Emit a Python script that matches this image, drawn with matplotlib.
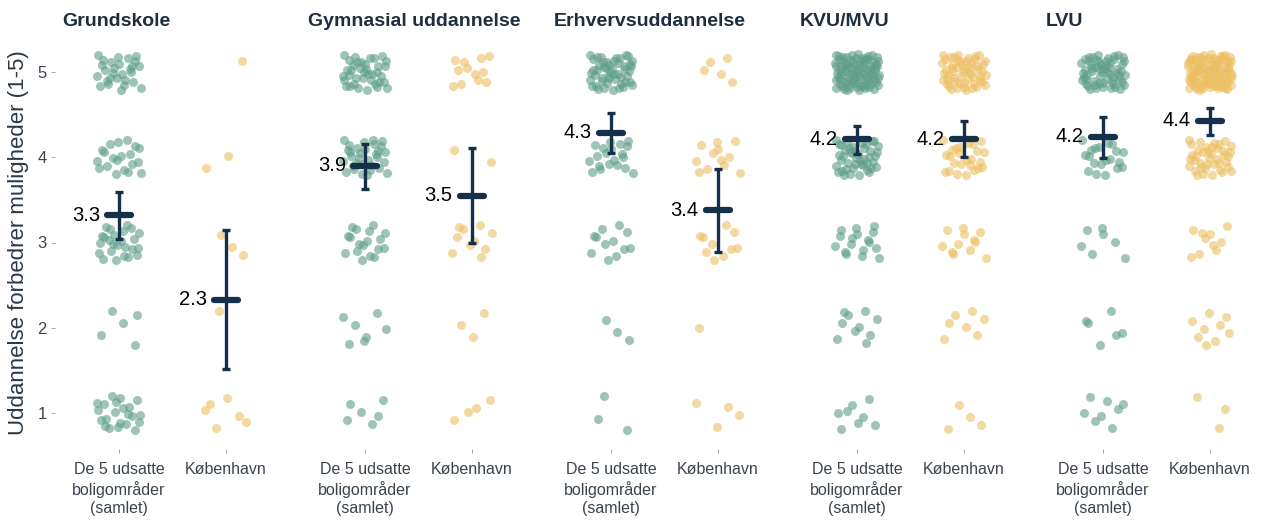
import matplotlib

matplotlib.use("Agg")
import matplotlib.pyplot as plt
import numpy as np

plt.rcParams["font.family"] = ["Liberation Sans", "DejaVu Sans"]

facets = ["Grundskole", "Gymnasial uddannelse", "Erhvervsuddannelse", "KVU/MVU", "LVU"]
groups = ["De 5 udsatte\nboligområder\n(samlet)", "København"]
levels = [1, 2, 3, 4, 5]

# number of answers per level (1..5), per facet: [udsatte, København]
counts = [
    [[22, 5, 25, 20, 28], [6, 1, 3, 2, 1]],
    [[6, 7, 18, 32, 38], [4, 3, 10, 2, 12]],
    [[3, 3, 12, 20, 50], [4, 1, 10, 12, 5]],
    [[8, 10, 17, 45, 90], [4, 7, 12, 25, 55]],
    [[8, 6, 7, 20, 60], [3, 9, 10, 40, 95]],
]
means = [[3.32, 2.33], [3.90, 3.55], [4.29, 3.38], [4.21, 4.21], [4.24, 4.43]]
ci_low = [[3.04, 1.52], [3.63, 3.00], [4.05, 2.89], [4.04, 4.00], [3.99, 4.26]]
ci_high = [[3.59, 3.15], [4.16, 4.11], [4.52, 3.86], [4.37, 4.43], [4.47, 4.58]]

point_colors = ["#5e9e89", "#edbf63"]
navy = "#14304a"
text_grey = "#3a4450"


def van_der_corput(n, base, start):
    out = []
    for i in range(start, start + n):
        f, r, k = 1.0, 0.0, i + 1
        while k > 0:
            f /= base
            r += f * (k % base)
            k //= base
        out.append(r)
    return np.array(out)


W, H = 1265, 520
fig = plt.figure(figsize=(W / 100, H / 100), dpi=100)

panel_w, panel_h = 235, 413
for i, facet in enumerate(facets):
    left = 55 + 246 * i
    ax = fig.add_axes([left / W, (520 - 449) / H, panel_w / W, panel_h / H])
    for g in range(2):
        xs, ys = [], []
        for lv, n in zip(levels, counts[i][g]):
            seed = 7 * i + 3 * g + lv * 11
            jx = (van_der_corput(n, 2, seed) - 0.5) * 0.42
            jy = (van_der_corput(n, 3, seed) - 0.5) * 0.42
            xs.append(g + 1 + jx)
            ys.append(lv + jy)
        ax.scatter(np.concatenate(xs), np.concatenate(ys), s=42, color=point_colors[g],
                   alpha=0.6, linewidths=0, zorder=2)

        x0 = g + 1
        ax.errorbar([x0], [means[i][g]],
                    yerr=[[means[i][g] - ci_low[i][g]], [ci_high[i][g] - means[i][g]]],
                    fmt="none", ecolor=navy, elinewidth=2.4, capsize=3, capthick=2.4, zorder=3)
        ax.hlines(means[i][g], x0 - 0.11, x0 + 0.11, color=navy, lw=4.5, zorder=4,
                  capstyle="round")
        ax.text(x0 - 0.18, means[i][g], f"{means[i][g]:.1f}", ha="right", va="center",
                fontsize=14.5, color="black", zorder=5)

    ax.set_xlim(0.4, 2.6)
    ax.set_ylim(0.578, 5.422)
    ax.set_xticks([1, 2])
    ax.set_xticklabels(groups, fontsize=11.5, color=text_grey, linespacing=1.3)
    ax.tick_params(axis="x", length=3, width=0.6, color="#999999", pad=6)
    for s in ax.spines.values():
        s.set_visible(False)
    if i == 0:
        ax.set_yticks(levels)
        ax.set_yticklabels([str(v) for v in levels], fontsize=12, color=text_grey)
        ax.tick_params(axis="y", length=3, width=0.6, color="#999999", pad=3)
        ax.set_ylabel("Uddannelse forbedrer muligheder (1-5)", fontsize=16,
                      color="#2b3844", labelpad=6)
    else:
        ax.set_yticks([])
    ax.text(7 / panel_w, 1 + 15 / panel_h, facet, transform=ax.transAxes, ha="left",
            va="center", fontsize=14, fontweight="bold", color="#1c2e40")

fig.savefig("out.png", dpi=100)
